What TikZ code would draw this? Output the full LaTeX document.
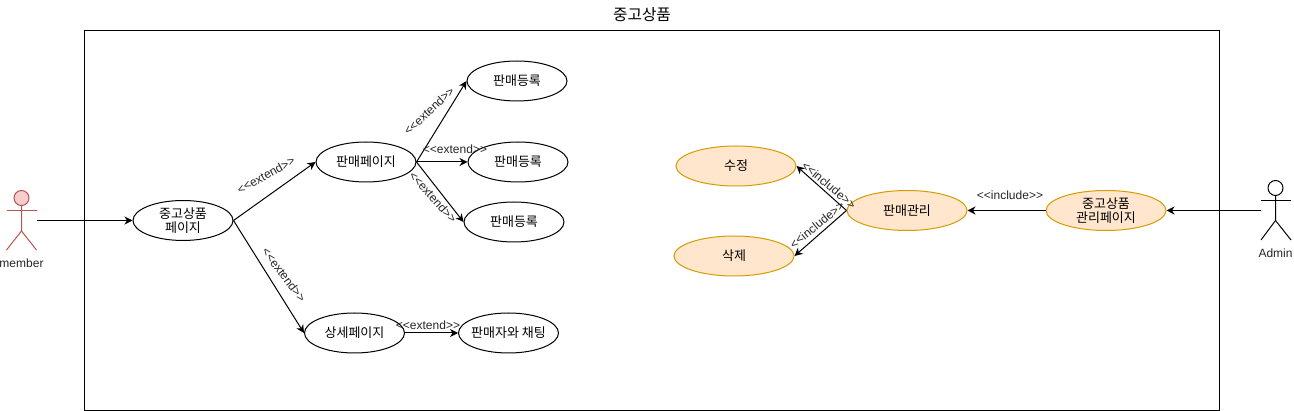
\documentclass[tikz,border=0pt]{standalone}
\usepackage{fontspec}
\setmainfont[Ligatures=TeXOff]{Liberation Sans}
\newfontfamily\krfont{Noto Sans CJK KR}
\usetikzlibrary{shapes.geometric}
\usetikzlibrary{arrows.meta}
\definecolor{usefill}{HTML}{FFE6CC}
\definecolor{useline}{HTML}{D79B00}
\definecolor{memberfill}{HTML}{F8CECC}
\definecolor{memberline}{HTML}{B85450}
\tikzset{
  usecase/.style={ellipse,draw=black,line width=1pt,minimum width=100pt,minimum height=40pt,inner sep=0pt,
    align=center,font=\krfont\fontsize{13}{14.5}\selectfont},
  managecase/.style={usecase,draw=useline,fill=usefill,minimum width=120pt},
  flow/.style={line width=1pt,-{Stealth[length=8pt,width=8pt,inset=2.5pt]}},
  stereo/.style={inner sep=0pt,font=\fontsize{12}{14}\selectfont,text=black!85},
  actorlabel/.style={inner sep=0pt,font=\fontsize{12}{14}\selectfont,text=black!85},
}
\begin{document}
\begin{tikzpicture}[x=1pt,y=-1pt]
\useasboundingbox (0,0) rectangle (1294,411);
\draw[line width=1pt] (84.5,30.5) rectangle (1219.5,410.5);
\node[inner sep=0pt,font=\krfont\fontsize{15.7}{18}\selectfont] (title) at (642,15) {중고상품};

% member
\node[circle,draw=memberline,fill=memberfill,line width=1pt,minimum size=15pt,inner sep=0pt] (memberhead) at (21.5,198) {};
\draw[memberline,line width=1pt] (memberhead.south) -- (21.5,231) -- (6.5,250);
\draw[memberline,line width=1pt] (21.5,231) -- (36.5,250);
\draw[memberline,line width=1pt] (6.5,210.5) -- (36.5,210.5);
\node[actorlabel] (memberlabel) at (21.5,263.5) {member};
\coordinate (memberhand) at (36.5,220.5);

% admin
\node[circle,draw=black,line width=1pt,minimum size=15pt,inner sep=0pt] (adminhead) at (1275.5,188) {};
\draw[line width=1pt] (adminhead.south) -- (1275.5,220.5) -- (1261,240);
\draw[line width=1pt] (1275.5,220.5) -- (1291,240);
\draw[line width=1pt] (1261,200.5) -- (1291,200.5);
\node[actorlabel] (adminlabel) at (1275.5,253.5) {Admin};
\coordinate (adminhand) at (1261,210.5);

% use cases
\node[usecase] (goods) at (183,220.5) {중고상품\\페이지};
\node[usecase] (sale) at (366,162) {판매페이지};
\node[usecase] (regone) at (517,81) {판매등록};
\node[usecase] (regtwo) at (518,162) {판매등록};
\node[usecase] (regthree) at (514,222) {판매등록};
\node[usecase] (detail) at (354.5,333) {상세페이지};
\node[usecase,inner xsep=-10pt] (chat) at (508.5,333) {판매자와 채팅};
\node[managecase] (edit) at (736,166) {수정};
\node[managecase] (remove) at (734,256) {삭제};
\node[managecase] (manage) at (907,210.5) {판매관리};
\node[managecase] (adminpage) at (1106,210.5) {중고상품\\관리페이지};

% connectors
\draw[flow] (memberhand) -- (goods.west);
\draw[flow] (goods.east) -- (sale.west);
\draw[flow] (goods.east) -- (detail.west);
\draw[flow] (sale.east) -- (regone.west);
\draw[flow] (sale.east) -- (regtwo.west);
\draw[flow] (sale.east) -- (regthree.west);
\draw[flow] (detail.east) -- (chat.west);
\draw[flow] (manage.west) -- (edit.east);
\draw[flow] (manage.west) -- (remove.east);
\draw[flow] (adminpage.west) -- (manage.east);
\draw[flow] (adminhand) -- (adminpage.east);

% stereotypes
\node[stereo,rotate=29] (extgoods) at (266,175) {<<extend>>};
\node[stereo,rotate=-53] (extdetail) at (284,275) {<<extend>>};
\node[stereo,rotate=43] (extone) at (429,111) {<<extend>>};
\node[stereo] (exttwo) at (455,149) {<<extend>>};
\node[stereo,rotate=-48] (extthree) at (433,197) {<<extend>>};
\node[stereo] (extchat) at (428,325) {<<extend>>};
\node[stereo,rotate=-40] (incedit) at (829,185) {<<include>>};
\node[stereo,rotate=39] (incremove) at (817,225) {<<include>>};
\node[stereo] (incmanage) at (1010,195) {<<include>>};
\end{tikzpicture}
\end{document}
